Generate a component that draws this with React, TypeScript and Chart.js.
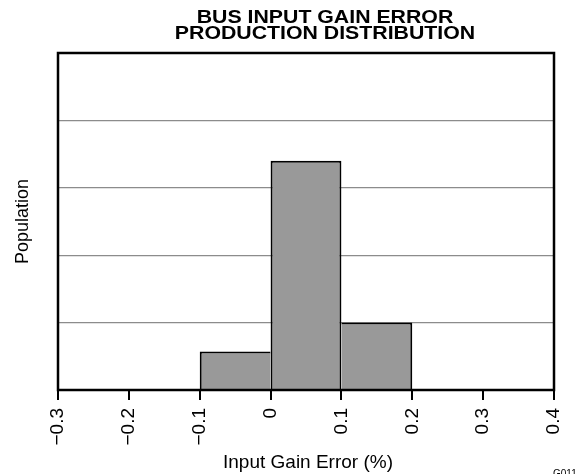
import { useEffect, useRef } from 'react';
import { Chart, registerables } from 'chart.js';

Chart.register(...registerables);

const TITLE_LINES = ['BUS INPUT GAIN ERROR', 'PRODUCTION DISTRIBUTION'];
const X_TITLE = 'Input Gain Error (%)';
const Y_TITLE = 'Population';
const FIGURE_ID = 'G011';

const binCenters = [-0.05, 0.05, 0.15];
const populations = [0.57, 3.4, 1.0];
const xTickValues = [-0.3, -0.2, -0.1, 0, 0.1, 0.2, 0.3, 0.4];
const yGridValues = [0, 1, 2, 3, 4, 5];

const FONT = '"Liberation Sans", Arial, Helvetica, sans-serif';

function fmtTick(v: number): string {
  const r = Math.round(v * 10) / 10;
  if (r === 0) return '0';
  return r < 0 ? '\u2212' + String(Math.abs(r)) : String(r);
}

const decor = {
  id: 'decor',
  afterDraw(chart: any) {
    const { ctx, chartArea: a } = chart;
    ctx.save();
    ctx.strokeStyle = '#000';
    ctx.lineWidth = 2.5;
    ctx.strokeRect(a.left, a.top, a.right - a.left, a.bottom - a.top);

    ctx.fillStyle = '#000';
    ctx.textAlign = 'center';
    ctx.textBaseline = 'alphabetic';
    ctx.font = 'bold 19px ' + FONT;
    const cx = (a.left + a.right) / 2 + 19;
    const baselines = [23, 38.5];
    TITLE_LINES.forEach((line, i) => {
      ctx.save();
      ctx.translate(cx, baselines[i]);
      ctx.scale(1.12, 1);
      ctx.fillText(line, 0, 0);
      ctx.restore();
    });

    ctx.font = '19px ' + FONT;
    ctx.fillText(X_TITLE, (a.left + a.right) / 2 + 2, 468);

    ctx.save();
    ctx.font = '18px ' + FONT;
    ctx.translate(23, (a.top + a.bottom) / 2);
    ctx.rotate(-Math.PI / 2);
    ctx.textBaseline = 'middle';
    ctx.fillText(Y_TITLE, 0, 0);
    ctx.restore();

    ctx.font = '10px ' + FONT;
    ctx.textAlign = 'left';
    ctx.fillText(FIGURE_ID, 553, 477);
    ctx.restore();
  },
};

export default function App() {
  const ref = useRef<HTMLCanvasElement | null>(null);
  useEffect(() => {
    if (!ref.current) return;
    const chart = new Chart(ref.current, {
      type: 'bar',
      data: {
        datasets: [
          {
            data: binCenters.map((x, i) => ({ x, y: populations[i] })),
            backgroundColor: '#999999',
            borderColor: '#000000',
            borderSkipped: false,
            borderWidth: (c: any) => {
              const i = c.dataIndex;
              const v = populations[i];
              const left = i > 0 && populations[i - 1] > v ? 0 : 2;
              const right = i < populations.length - 1 && populations[i + 1] > v ? 0 : 2;
              return { top: 2, left, right, bottom: 0 };
            },
            barPercentage: 1,
            categoryPercentage: 1,
            inflateAmount: 0,
          } as any,
        ],
      },
      plugins: [decor],
      options: {
        animation: false,
        responsive: false,
        devicePixelRatio: 1,
        layout: { padding: { top: 53, left: 58, right: 31, bottom: 0 } },
        plugins: { legend: { display: false }, tooltip: { enabled: false }, title: { display: false } },
        scales: {
          x: {
            type: 'linear',
            min: -0.3,
            max: 0.4,
            offset: false,
            afterBuildTicks: (s: any) => {
              s.ticks = xTickValues.map((v) => ({ value: v }));
            },
            afterFit: (s: any) => {
              s.height = 84;
            },
            grid: { drawOnChartArea: false, drawTicks: true, tickLength: 10, color: '#000', lineWidth: 2, offset: false },
            border: { display: false },
            ticks: {
              color: '#000',
              font: { size: 19, family: FONT },
              padding: 8,
              minRotation: 90,
              maxRotation: 90,
              autoSkip: false,
              callback: (v: any) => fmtTick(Number(v)),
            },
          },
          y: {
            min: 0,
            max: 5,
            afterBuildTicks: (s: any) => {
              s.ticks = yGridValues.map((v) => ({ value: v }));
            },
            afterFit: (s: any) => {
              s.width = 0;
            },
            grid: { color: '#8c8c8c', lineWidth: 1.2, drawTicks: false },
            border: { display: false },
            ticks: { display: false },
          },
        },
      } as any,
    });
    return () => chart.destroy();
  }, []);
  return (
    <canvas
      ref={ref}
      width={585}
      height={474}
      style={{ position: 'fixed', left: 0, top: 0, width: 585, height: 474, background: '#fff' }}
    />
  );
}
